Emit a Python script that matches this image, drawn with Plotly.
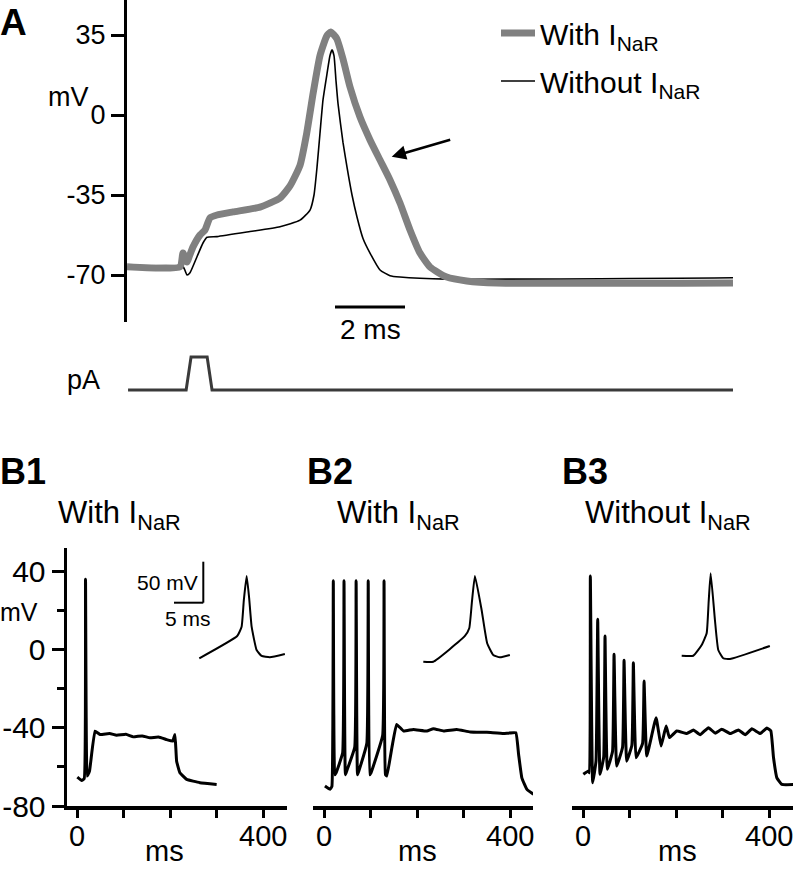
import plotly.graph_objects as go

W, H = 794, 869

# ---------------- DATA ----------------
# Panel A: single action potential (time ms, membrane potential mV)
A_T_WITH = [0, 1.514, 1.6, 1.714, 1.8, 1.886, 2.086, 2.229, 2.371, 2.571, 3.029, 3.8, 4.371,
            4.657, 4.943, 5.134, 5.323, 5.514, 5.706, 5.82, 5.991, 6.18, 6.371, 6.657, 6.943,
            7.229, 7.514, 7.8, 8.086, 8.371, 8.657, 9.134, 9.706, 10.563, 17.314]
A_V_WITH = [-66.4, -66.4, -60.4, -64.3, -61, -57.7, -52.5, -50.3, -45, -43.75, -42.4, -40.3, -36.3,
            -31, -22, -8, 10, 26, 34.5, 36.3, 33.5, 24, 12.3, -0.9, -10.9,
            -19.7, -28.4, -38.5, -50.3, -60.4, -66.5, -70.9, -72.6, -73.5, -73.5]
A_T_WITHOUT = [0, 1.6, 1.714, 1.8, 2.0, 2.171, 2.286, 2.571, 3.514, 4.371, 4.943, 5.229, 5.343,
               5.429, 5.514, 5.6, 5.714, 5.8, 5.857, 5.914, 5.971, 6.029, 6.171, 6.286, 6.429,
               6.571, 6.743, 6.943, 7.229, 7.514, 7.8, 9.143, 17.314]
A_V_WITHOUT = [-66.4, -66.4, -70, -69, -62, -56, -53.5, -53.2, -51, -48.9, -46, -41.6, -35,
               -22.8, -8, 6.6, 18, 26, 28.5, 26, 15, 5, -12, -22.8, -35,
               -44.6, -54, -60.4, -67.8, -70.3, -70.9, -71.8, -71.2]
# Stimulus current (arbitrary pA units)
STIM_T = [0.03, 1.69, 1.83, 2.29, 2.43, 17.314]
STIM_PA = [0, 0, 1, 1, 0, 0]

# Panel B1: with I_NaR, single spike
B1_T = [0.7, 10, 15.5, 18.3, 21.5, 23.5, 27, 38.7, 49.4, 70, 85.2, 105, 121, 140, 156.8, 175,
        192.6, 205.4, 210.4, 214, 221, 235.5, 264, 300]
B1_V = [-65.3, -67, -66, 35.8, -64.7, -64, -62, -41.8, -43.5, -43.0, -43.9, -43.4, -44.7, -44.2,
        -45.2, -44.8, -46.1, -46.9, -43.5, -57.1, -63, -66.4, -68.1, -69]
# Panel B2: with I_NaR, repetitive firing
B2_T = [2, 13, 17, 20, 23, 26, 40, 43, 46, 49, 66, 69, 72, 75, 92, 95, 98, 101, 126, 129, 132, 135,
        146, 156, 171, 192, 221, 235, 257, 285, 314, 350, 386, 412, 418, 425, 436, 450]
B2_V = [-69.8, -71.5, -70, 35, -64, -63, -53, 35, -64, -62, -50, 35, -64, -62, -48, 35, -64, -63,
        -44, 35, -64, -64.7, -50, -38.3, -41.7, -40.9, -41.7, -40.5, -41.7, -40.9, -42.2, -42.4,
        -43.0, -42.6, -53.6, -65.6, -71.5, -74]
# Panel B3: without I_NaR, decaying spikes
B3_T = [0.7, 11.5, 14, 15.8, 20.8, 28, 31.6, 36.6, 44.5, 47.3, 52.3, 63.5, 66.7, 72.4, 85, 88.2,
        93.9, 105, 108.2, 114, 128, 131.2, 137, 157, 167.7, 178.5, 185.7, 201.4, 223, 237.3, 251.6,
        269.5, 283.9, 298.2, 316.1, 334, 348.4, 362.8, 380.6, 395, 403.6, 409.3, 416.5, 427.2, 452]
B3_V = [-63.8, -62.1, -63, 37.4, -68.1, -57, 15.3, -63.8, -55, 6.8, -61.3, -52, -2.5, -59.6, -50,
        -5.6, -57.1, -49, -6.8, -55.4, -48, -16.2, -54.5, -34.9, -49.4, -39.2, -45.1, -41.7, -43.0,
        -41.2, -43.6, -40.0, -42.8, -40.8, -43.0, -41.2, -43.6, -40.6, -43.0, -40.2, -41.7, -55.4,
        -65.6, -69, -69]
# Insets: expanded spike waveforms (ms, mV)
IN1_T = [0, 6.47, 7.22, 7.6, 8.08, 8.5, 8.93, 9.78, 10.63, 12.04, 14.6]
IN1_V = [-69.0, -41.8, -30.5, 2, 31.3, 5, -30.5, -58.9, -66.2, -67.8, -63.8]
IN2_T = [0, 1.70, 7.10, 7.84, 8.3, 8.81, 9.95, 10.90, 11.93, 13.07, 14.77]
IN2_V = [-73.2, -73.2, -41.8, -32.4, 0, 31.3, -10.1, -50.7, -65, -67.8, -65]
IN3_T = [0, 1.98, 3.41, 4.26, 4.6, 4.94, 5.67, 6.24, 7.09, 8.23, 15.04]
IN3_V = [-65.9, -65.9, -52.8, -38.5, 0, 34.6, -22.3, -58.9, -69.0, -69.9, -54.0]

A_TICKS = [-70, -35, 0, 35]
A_TICKTEXT = ["-70", "-35", "0", "35"]
B_YTICKS = [-80, -40, 0, 40]
B_YTICKTEXT = ["-80", "-40", "0", "40"]
B_YMINOR = [-60, -20, 20]
B_XTICKS = [0, 100, 200, 300, 400]
B_XTICKTEXT = ["0", "", "", "", "400"]
SCALE_A_MS = 2
INSET_SCALE_MV = 50
INSET_SCALE_MS = 5

# ---------------- LAYOUT HELPERS ----------------
def fx(p):
    return p / W

def fy(p):
    return 1 - p / H

FONT = "Liberation Sans, Arial, Helvetica, sans-serif"
GRAY = "#808080"

# Panel A pixel geometry
A_X0, A_X1, A_PXMS = 127, 733, 35.0
A_Y0, A_Y1 = 0, 322
def a_mv(ypx):
    return -70 + (275 - ypx) * 35 / 80.0
def a_ms(xpx):
    return (xpx - A_X0) / A_PXMS

# Panel B geometry
B_PXMV = 235 / 120.0
B_TOP = 548
B_BOT = 806
def b_xrange(x0px, x1px, zero_px, pxms=0.4655):
    return [(x0px - zero_px) / pxms, (x1px - zero_px) / pxms]

# Inset geometry
IN_PXMS = 29.3 / 5
IN_PXMV = 41 / 50.0
def in_t(xpx, xs):
    return (xpx - xs) / IN_PXMS
def in_v(ypx):
    return -65 - (ypx - 655) / IN_PXMV

fig = go.Figure()

# Panel A traces
fig.add_trace(go.Scatter(x=A_T_WITHOUT, y=A_V_WITHOUT, mode="lines",
                         line=dict(color="black", width=1.6, shape="spline", smoothing=0.5),
                         name="Without I<sub>NaR</sub>", legendrank=2, legendgroup="b",
                         xaxis="x", yaxis="y"))
fig.add_trace(go.Scatter(x=A_T_WITH, y=A_V_WITH, mode="lines",
                         line=dict(color=GRAY, width=7, shape="spline", smoothing=0.5),
                         name="With I<sub>NaR</sub>", legendrank=1, legendgroup="a",
                         xaxis="x", yaxis="y"))
fig.add_trace(go.Scatter(x=STIM_T, y=STIM_PA, mode="lines",
                         line=dict(color="#3a3a3a", width=3), showlegend=False,
                         xaxis="x2", yaxis="y2"))

# Panel B traces
for t, v, xa in [(B1_T, B1_V, "x3"), (B2_T, B2_V, "x4"), (B3_T, B3_V, "x5")]:
    fig.add_trace(go.Scatter(x=t, y=v, mode="lines",
                             line=dict(color="black", width=3, shape="spline", smoothing=0.3),
                             showlegend=False, xaxis=xa, yaxis="y3"))
for t, v, i in [(IN1_T, IN1_V, 6), (IN2_T, IN2_V, 7), (IN3_T, IN3_V, 8)]:
    fig.add_trace(go.Scatter(x=t, y=v, mode="lines",
                             line=dict(color="black", width=2, shape="spline", smoothing=0.4),
                             showlegend=False, xaxis="x%d" % i, yaxis="y%d" % i))

hidden = dict(visible=False, showgrid=False, zeroline=False, fixedrange=True)

layout = dict(
    width=W, height=H, autosize=False,
    margin=dict(l=0, r=0, t=0, b=0, pad=0, autoexpand=False),
    paper_bgcolor="white", plot_bgcolor="rgba(0,0,0,0)",
    font=dict(family=FONT, color="black"),
    showlegend=True,
    legend=dict(x=fx(496), y=fy(7), xanchor="left", yanchor="top",
                font=dict(size=30, family=FONT), bgcolor="rgba(0,0,0,0)",
                itemwidth=34, tracegroupgap=6, traceorder="grouped"),
    xaxis=dict(hidden, domain=[fx(A_X0), fx(A_X1)], range=[0, a_ms(A_X1)], anchor="y"),
    yaxis=dict(domain=[fy(A_Y1), fy(A_Y0)], range=[a_mv(A_Y1), a_mv(A_Y0)], anchor="x",
               showline=True, linewidth=3, linecolor="black", ticks="outside",
               ticklen=13, tickwidth=3, tickcolor="black", tickvals=A_TICKS,
               ticktext=A_TICKTEXT, tickfont=dict(size=27), showgrid=False, zeroline=False),
    xaxis2=dict(hidden, domain=[fx(A_X0), fx(A_X1)], range=[0, a_ms(A_X1)], anchor="y2"),
    yaxis2=dict(hidden, domain=[fy(400), fy(340)], range=[-10 / 33.0, 50 / 33.0], anchor="x2"),
)

b_axis_common = dict(showline=True, linewidth=3.5, linecolor="black", ticks="outside",
                     ticklen=8, tickwidth=3, tickcolor="black", tickvals=B_XTICKS,
                     ticktext=B_XTICKTEXT, tickfont=dict(size=29), showgrid=False,
                     zeroline=False, anchor="y3", ticklabeloverflow="allow",
                     ticklabelstandoff=-6)
layout["xaxis3"] = dict(b_axis_common, domain=[fx(67), fx(287)], range=b_xrange(67, 287, 77))
layout["xaxis4"] = dict(b_axis_common, domain=[fx(313), fx(533)], range=b_xrange(313, 533, 324))
layout["xaxis5"] = dict(b_axis_common, domain=[fx(572), fx(793)], range=b_xrange(572, 793, 583))
layout["yaxis3"] = dict(domain=[fy(B_BOT), fy(B_TOP)],
                        range=[-80, -80 + (B_BOT - B_TOP) / B_PXMV], anchor="x3",
                        showline=True, linewidth=3.5, linecolor="black", ticks="outside",
                        ticklen=12, tickwidth=3, tickcolor="black", tickvals=B_YTICKS,
                        ticktext=B_YTICKTEXT, ticklabeloverflow="allow",
                        tickfont=dict(size=30), showgrid=False, zeroline=False,
                        minor=dict(tickvals=B_YMINOR, ticks="outside", ticklen=7,
                                   tickwidth=3, tickcolor="black", showgrid=False))

# insets: (axis index, left px, right px, start px)
INSETS = [(6, 150, 295, 199.3), (7, 415, 520, 423.3), (8, 670, 780, 681.7)]
IN_TOP, IN_BOT = 555, 672
for i, l, r, xs in INSETS:
    layout["xaxis%d" % i] = dict(hidden, domain=[fx(l), fx(r)],
                                 range=[in_t(l, xs), in_t(r, xs)], anchor="y%d" % i)
    layout["yaxis%d" % i] = dict(hidden, domain=[fy(IN_BOT), fy(IN_TOP)],
                                 range=[in_v(IN_BOT), in_v(IN_TOP)], anchor="x%d" % i)

# shapes: scale bars
sb_y = a_mv(307)
sb_x0 = a_ms(335)
shapes = [
    dict(type="line", xref="x", yref="y", x0=sb_x0, x1=sb_x0 + SCALE_A_MS, y0=sb_y, y1=sb_y,
         line=dict(color="black", width=3)),
]
ivx = in_t(203.3, 199.3)
ivy = in_v(602.7)
shapes += [
    dict(type="line", xref="x6", yref="y6", x0=ivx, x1=ivx, y0=ivy, y1=ivy + INSET_SCALE_MV,
         line=dict(color="black", width=2)),
    dict(type="line", xref="x6", yref="y6", x0=ivx - INSET_SCALE_MS, x1=ivx, y0=ivy, y1=ivy,
         line=dict(color="black", width=2)),
]
layout["shapes"] = shapes

def ann(text, xpx, ypx, size, xanchor="center", yanchor="middle", bold=False):
    t = "<b>%s</b>" % text if bold else text
    return dict(text=t, x=fx(xpx), y=fy(ypx), xref="paper", yref="paper",
                xanchor=xanchor, yanchor=yanchor, showarrow=False,
                font=dict(size=size, family=FONT, color="black"))

annotations = [
    ann("A", -2, 22, 37, xanchor="left", bold=True),
    ann("mV", 68, 97, 27),
    ann("2 ms", 370, 329, 28),
    ann("pA", 83, 380, 27),
    ann("B1", -2, 471, 36, xanchor="left", bold=True),
    ann("B2", 305, 471, 36, xanchor="left", bold=True),
    ann("B3", 560, 471, 36, xanchor="left", bold=True),
    ann("With I<sub>NaR</sub>", 56, 515, 31, xanchor="left"),
    ann("With I<sub>NaR</sub>", 335, 515, 31, xanchor="left"),
    ann("Without I<sub>NaR</sub>", 583, 515, 31, xanchor="left"),
    ann("mV", -2, 612, 25, xanchor="left"),
    ann("50 mV", 200, 582, 21, xanchor="right"),
    ann("5 ms", 188, 618, 21),
    ann("ms", 164, 851, 29),
    ann("ms", 417, 851, 29),
    ann("ms", 677, 851, 29),
    # arrow in panel A
    dict(text="", x=a_ms(391.7), y=a_mv(156.7), ax=a_ms(451.7), ay=a_mv(139.3),
         xref="x", yref="y", axref="x", ayref="y", showarrow=True, arrowhead=2,
         arrowsize=1.1, arrowwidth=2.6, arrowcolor="black", standoff=0),
]
layout["annotations"] = annotations

fig.update_layout(**layout)
fig.write_html("out.html", config={"displayModeBar": False, "staticPlot": True},
               post_script="document.body.style.margin='0';document.body.style.padding='0';")
